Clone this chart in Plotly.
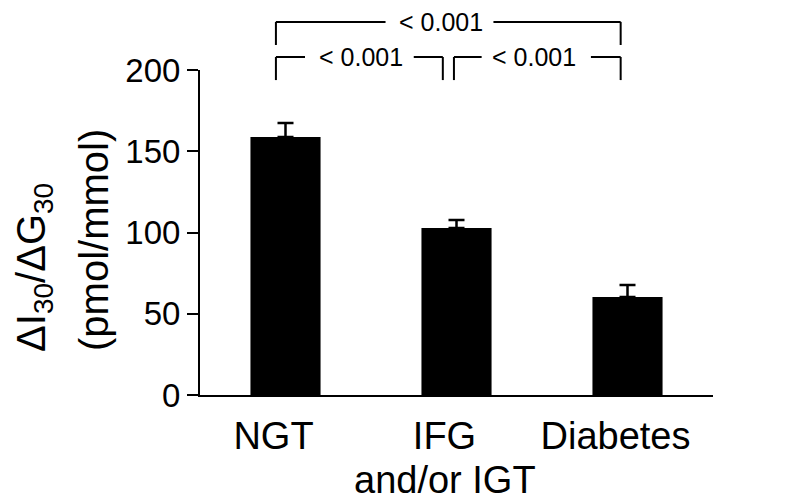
import plotly.graph_objects as go

categories = ["NGT", "IFG", "Diabetes"]
category_sublines = ["", "and/or IGT", ""]
means = [158.8, 102.8, 60.3]
sem = [8.6, 4.9, 7.4]
y_ticks = [0, 50, 100, 150, 200]
p_labels = ["< 0.001", "< 0.001", "< 0.001"]

FONT = "Liberation Sans"

fig = go.Figure()
fig.add_trace(go.Bar(
    x=[0, 1, 2], y=means, width=0.41,
    marker=dict(color="black", line=dict(width=0)),
    error_y=dict(type="data", symmetric=False, array=sem, arrayminus=[0, 0, 0],
                 color="black", thickness=2.5, width=8),
))

# page body has an 8px margin, so the figure is sized to fit the window
fig.update_layout(
    width=792, height=495,
    margin=dict(l=192, r=87, t=62, b=108, autoexpand=False),
    plot_bgcolor="white", paper_bgcolor="white",
    showlegend=False,
    font=dict(family=FONT, color="black"),
)
fig.update_xaxes(
    range=[-0.5, 2.5], tickvals=[0, 1, 2], ticktext=categories,
    showline=True, linecolor="black", linewidth=2, ticks="",
    showgrid=False, zeroline=False, tickfont=dict(size=38, family=FONT),
    ticklabelshift=-12, ticklabelstandoff=6, automargin=False,
)
fig.update_yaxes(
    range=[0, 200], tickvals=y_ticks, showline=True, linecolor="black",
    linewidth=2, ticks="outside", ticklen=11, tickwidth=2, tickcolor="black",
    showgrid=False, zeroline=False, tickfont=dict(size=33, family=FONT),
    automargin=False,
)

# second line of category labels (tighter line spacing than plotly's default)
for i, sub in enumerate(category_sublines):
    if sub:
        fig.add_annotation(text=sub, xref="x", yref="paper", x=i, y=-0.262,
                           xshift=-12, showarrow=False, xanchor="center",
                           yanchor="middle", font=dict(size=38, family=FONT))

# y-axis title lines (paper coords relative to plot area 513x325)
fig.add_annotation(text="ΔI<sub>30</sub>/ΔG<sub>30</sub>", xref="paper", yref="paper",
                   x=-0.3236, y=0.394, textangle=-90, showarrow=False,
                   xanchor="center", yanchor="middle", font=dict(size=40, family=FONT))
fig.add_annotation(text="(pmol/mmol)", xref="paper", yref="paper",
                   x=-0.2066, y=0.477, textangle=-90, showarrow=False,
                   xanchor="center", yanchor="middle", font=dict(size=40, family=FONT))

# significance brackets: (x_left, x_right, y_top_paper, y_bottom_paper, text_x, gap_l, gap_r)
brackets = [
    (-0.056, 1.96, 1.148, 1.077, 0.909, 0.585, 1.216),
    (-0.056, 0.92, 1.040, 0.969, 0.44, 0.114, 0.750),
    (0.985, 1.96, 1.040, 0.969, 1.456, 1.147, 1.786),
]
line = dict(color="black", width=2)
for (xl, xr, yt, yb, tx, gl, gr), lab in zip(brackets, p_labels):
    fig.add_shape(type="line", xref="x", yref="paper", x0=xl, x1=xl, y0=yt, y1=yb, line=line)
    fig.add_shape(type="line", xref="x", yref="paper", x0=xr, x1=xr, y0=yt, y1=yb, line=line)
    fig.add_shape(type="line", xref="x", yref="paper", x0=xl, x1=gl, y0=yt, y1=yt, line=line)
    fig.add_shape(type="line", xref="x", yref="paper", x0=gr, x1=xr, y0=yt, y1=yt, line=line)
    fig.add_annotation(text=lab, xref="x", yref="paper", x=tx, y=yt, showarrow=False,
                       xanchor="center", yanchor="middle", font=dict(size=25, family=FONT))

fig.write_html("out.html")
